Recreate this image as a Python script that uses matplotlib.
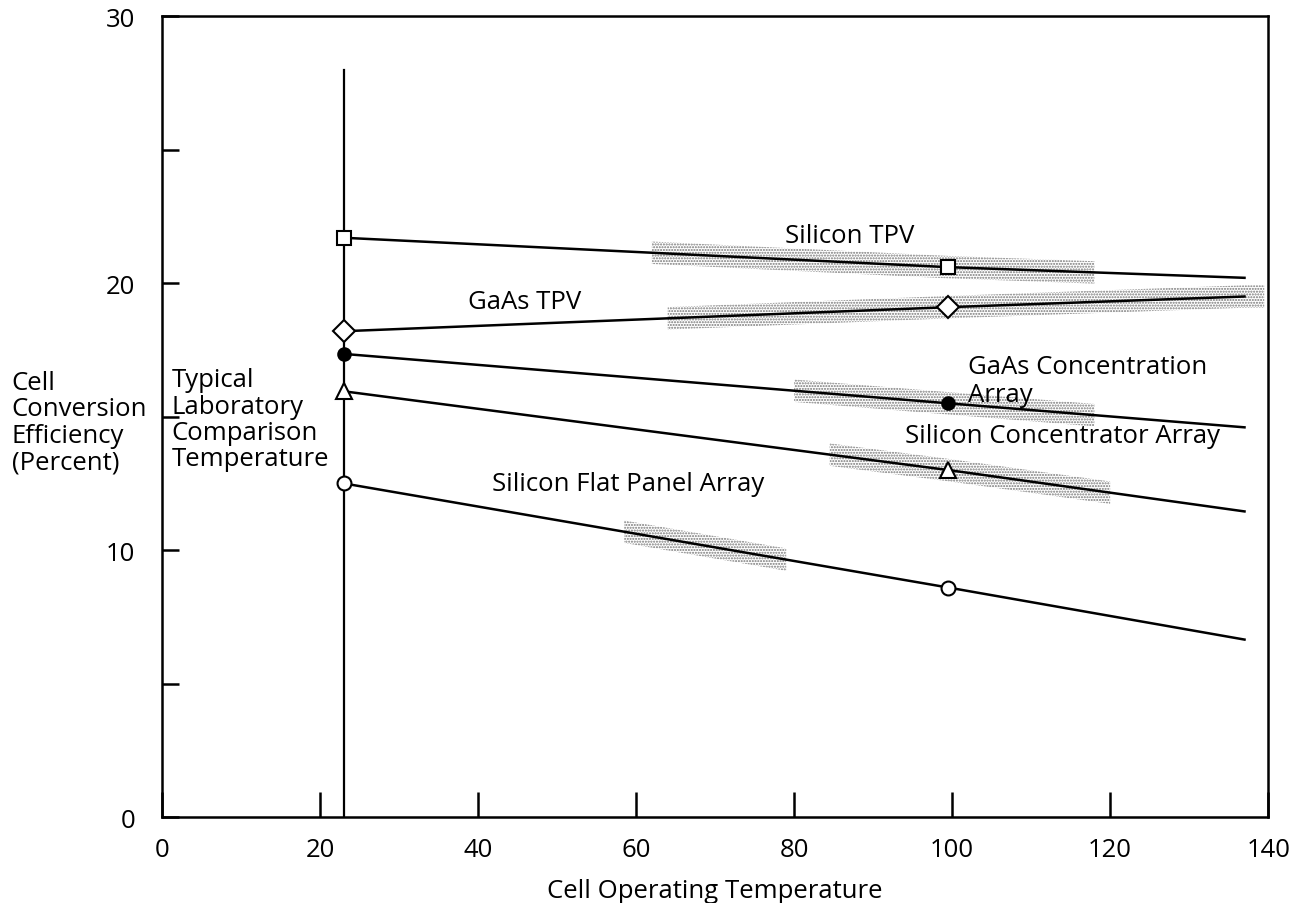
import numpy as np
import matplotlib.pyplot as plt

plt.rcParams['font.family'] = ['Open Sans', 'DejaVu Sans']

# temperatures (deg C): lab comparison point, marker point, line end
temps = [23, 99.5, 137]

si_tpv = [21.7, 20.6, 20.2]
gaas_tpv = [18.2, 19.1, 19.5]
gaas_conc = [17.35, 15.5, 14.6]
si_conc = [15.95, 13.0, 11.45]
si_flat = [12.5, 8.6, 6.65]

# shaded (stippled) temperature ranges for each curve
band_si_tpv = (62, 118)
band_gaas_tpv = (64, 139.5)
band_gaas_conc = (80, 118)
band_si_conc = (84.5, 120)
band_si_flat = (58.5, 79)

lab_temp = 23
lab_top = 28

fs = 18.5

fig = plt.figure(figsize=(13.03, 9.04), dpi=100)
ax = fig.add_axes([0.1243, 0.095, 0.849, 0.886])

series = [
    (si_tpv, band_si_tpv, dict(marker='s', mfc='white', ms=10)),
    (gaas_tpv, band_gaas_tpv, dict(marker='D', mfc='white', ms=11)),
    (gaas_conc, band_gaas_conc, dict(marker='o', mfc='black', ms=9)),
    (si_conc, band_si_conc, dict(marker='^', mfc='white', ms=11)),
    (si_flat, band_si_flat, dict(marker='o', mfc='white', ms=10)),
]

for vals, band, mk in series:
    # stippled band around part of the line
    bx = np.linspace(band[0], band[1], 50)
    by = np.interp(bx, temps, vals)
    ax.fill_between(bx, by - 0.42, by + 0.42, facecolor='none',
                    edgecolor='#777777', hatch='......', linewidth=0, zorder=1)
    ax.plot(temps, vals, color='black', lw=1.8, zorder=3)
    ax.plot(temps[:2], vals[:2], linestyle='none', mec='black', mew=1.5,
            zorder=4, **mk)

ax.plot([lab_temp, lab_temp], [0, lab_top], color='black', lw=1.6, zorder=2)

ax.text(78.9, 21.8, 'Silicon TPV', fontsize=fs, va='center')
ax.text(38.7, 19.3, 'GaAs TPV', fontsize=fs, va='center')
ax.text(102, 16.35, 'GaAs Concentration\nArray', fontsize=fs, va='center',
        linespacing=1.12)
ax.text(94, 14.3, 'Silicon Concentrator Array', fontsize=fs, va='center')
ax.text(41.8, 12.5, 'Silicon Flat Panel Array', fontsize=fs, va='center')
ax.text(1.2, 14.9, 'Typical\nLaboratory\nComparison\nTemperature',
        fontsize=fs, va='center', linespacing=1.07)

fig.text(0.009, 0.532, 'Cell\nConversion\nEfficiency\n(Percent)',
         fontsize=fs, va='center', ha='left', linespacing=1.07)

ax.set_xlim(0, 140)
ax.set_ylim(0, 30)
ax.set_xticks(np.arange(0, 141, 20))
ax.set_yticks(np.arange(0, 31, 10))
ax.set_yticks(np.arange(5, 30, 10), minor=True)
ax.tick_params(axis='x', direction='in', length=18, width=1.8, labelsize=fs,
               pad=14)
ax.tick_params(axis='y', which='both', direction='in', length=12, width=1.8,
               labelsize=fs, pad=19)
for s in ax.spines.values():
    s.set_linewidth(1.8)

ax.set_xlabel('Cell Operating Temperature', fontsize=fs, labelpad=12)

fig.savefig('out.png', dpi=100)
